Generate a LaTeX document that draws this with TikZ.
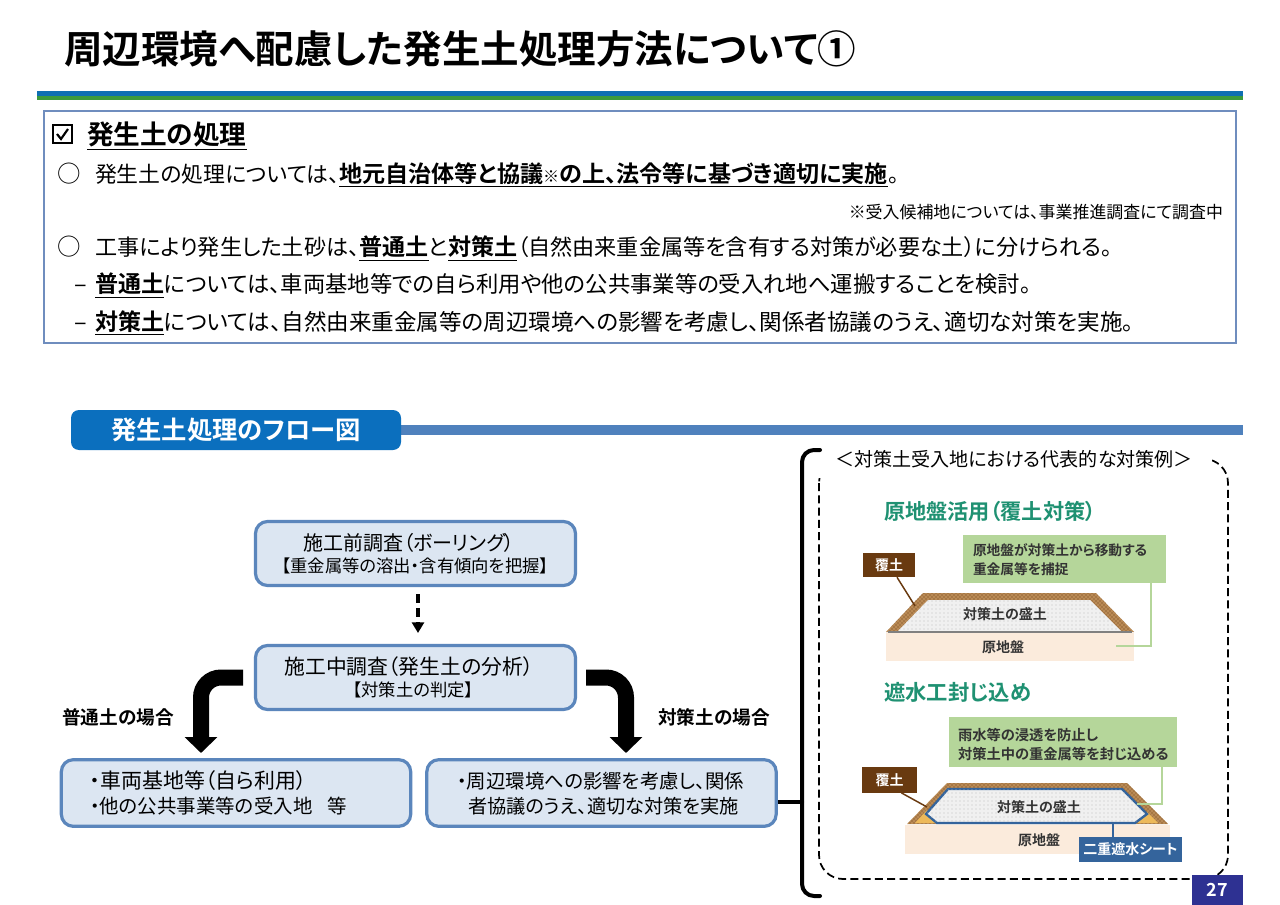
\documentclass[tikz,border=0pt]{standalone}
\usepackage{fontspec}
\setmainfont{Noto Sans CJK JP}[RawFeature=+palt,BoldFont={Noto Sans CJK JP Bold}]
\usetikzlibrary{arrows.meta,patterns}
\newcommand{\ulb}[1]{\textbf{$\underline{\hbox{#1}}$}}
\newcommand{\fs}[1]{\fontsize{#1}{#1}\selectfont}
\newcommand{\bul}[1]{{\fs{17.3}\ulb{#1}}}
\definecolor{bluebar}{HTML}{0F6FB2}
\definecolor{greenbar}{HTML}{3C9A3C}
\definecolor{frameblue}{HTML}{6F8DBE}
\definecolor{pill}{HTML}{0B6FBE}
\definecolor{stripe}{HTML}{4F81BD}
\definecolor{boxfill}{HTML}{DCE6F2}
\definecolor{boxline}{HTML}{5B86BC}
\definecolor{teal2}{HTML}{1F9172}
\definecolor{lgreen}{HTML}{B5D69A}
\definecolor{brownlab}{HTML}{693A10}
\definecolor{soilb}{HTML}{B98A55}
\definecolor{ground}{HTML}{FBEBDC}
\definecolor{sheet}{HTML}{34649C}
\definecolor{pagebox}{HTML}{2E3192}
\definecolor{orange2}{HTML}{EDB95A}
\tikzset{
  txt/.style={inner sep=0pt,outer sep=0pt,anchor=base west},
  txe/.style={inner sep=0pt,outer sep=0pt,anchor=base east},
  txc/.style={inner sep=0pt,outer sep=0pt,anchor=center,align=center},
  flowbox/.style={draw=boxline,fill=boxfill,line width=2.4pt,rounded corners=9pt,inner sep=0pt},
  fatarrow/.style={line width=12pt,rounded corners=15pt,-{Triangle[length=12pt,width=24pt]}},
  palegreen/.style={draw=lgreen,line width=1.2pt},
  brownlead/.style={draw=brownlab,line width=1.1pt},
  labeltxt/.style={txc,font=\fs{10.5}\bfseries,text=black!80}
}
\begin{document}
\begin{tikzpicture}[x=.75pt,y=-.75pt]
\useasboundingbox (0,0) rectangle (1280,905);
\fill[white] (0,0) rectangle (1280,905);
% title
\node[txt,font=\fs{28.9}\bfseries] (title) at (64,64) {周辺環境へ配慮した発生土処理方法について①};
\fill[bluebar] (37,91) rectangle (1243,96);
\fill[greenbar] (37,96) rectangle (1243,100);
% upper frame
\node[draw=frameblue,line width=.8pt,minimum width=894pt,minimum height=174pt,inner sep=0pt] (upper) at (640,227) {};
\draw[line width=1.4pt] (53,125) rectangle (72,143);
\draw[line width=1.6pt] (57,134) -- (61,139) -- (68,129);
\node[txt,font=\fs{20}] (h1) at (87,145) {\ulb{発生土の処理}};
\node[txt,font=\fs{17.6}] (b1) at (57,182.5) {○};
\node[txt,font=\fs{16.4}] (l1) at (95,182.5) {発生土の処理については、\bul{地元自治体等と協議{\fs{12}※}の上、法令等に基づき適切に実施}。};
\node[txe,font=\fs{12.7}] (note) at (1223,219) {※受入候補地については、事業推進調査にて調査中};
\node[txt,font=\fs{17.6}] (b2) at (57,256) {○};
\node[txt,font=\fs{16.6}] (l2) at (95,256) {工事により発生した土砂は、\bul{普通土}と\bul{対策土}（自然由来重金属等を含有する対策が必要な土）に分けられる。};
\node[txt,font=\fs{17.6}] (d1) at (74,293) {–};
\node[txt,font=\fs{16.75}] (l3) at (95,293) {\bul{普通土}については、車両基地等での自ら利用や他の公共事業等の受入れ地へ運搬することを検討。};
\node[txt,font=\fs{17.6}] (d2) at (74,330) {–};
\node[txt,font=\fs{16.9}] (l4) at (95,330) {\bul{対策土}については、自然由来重金属等の周辺環境への影響を考慮し、関係者協議のうえ、適切な対策を実施。};
% section heading
\fill[stripe] (395,425) rectangle (1243,435);
\node[fill=pill,rounded corners=6pt,minimum width=247.5pt,minimum height=30pt,inner sep=0pt,text=white,font=\fs{19}\bfseries] (head) at (236,430) {\raisebox{-.7pt}{発生土処理のフロー図}};
% flow
\node[flowbox,minimum width=240pt,minimum height=48pt] (b-one) at (415.5,553.5) {};
\node[txc,font=\fs{15}] (t1a) at (409,543) {施工前調査（ボーリング）};
\node[txc,font=\fs{13}] (t1b) at (415,566) {【重金属等の溶出・含有傾向を把握】};
\node[flowbox,minimum width=240pt,minimum height=48pt] (b-two) at (415.5,677.5) {};
\node[txc,font=\fs{15.6}] (t2a) at (409,667) {施工中調査（発生土の分析）};
\node[txc,font=\fs{13}] (t2b) at (413,690) {【対策土の判定】};
\node[flowbox,minimum width=262pt,minimum height=50pt] (b-three) at (236,793) {};
\node[txt,font=\fs{15.7}] (t3a) at (90,788) {・車両基地等（自ら利用）};
\node[txt,font=\fs{14.6}] (t3b) at (90,813) {・他の公共事業等の受入地\hspace{.75em}等};
\node[flowbox,minimum width=262pt,minimum height=50pt] (b-four) at (601.5,793) {};
\node[txt,font=\fs{14.6}] (t4a) at (457,788) {・周辺環境への影響を考慮し、関係};
\node[txt,font=\fs{14.4}] (t4b) at (468,813) {者協議のうえ、適切な対策を実施};
\coordinate (a0) at (418,594);
\coordinate (a1) at (418,633);
\draw[line width=2.3pt,dash pattern=on 7pt off 3.5pt,-{Triangle[length=8pt,width=9pt]}] (a0) -- (a1);
\coordinate (la) at (243,677.5);
\coordinate (lb) at (201,677.5);
\coordinate (lc) at (201,753);
\draw[fatarrow] (la) -- (lb) -- (lc);
\coordinate (ra) at (586,677.5);
\coordinate (rb) at (626,677.5);
\coordinate (rc) at (626,753);
\draw[fatarrow] (ra) -- (rb) -- (rc);
\node[txc,font=\fs{14}\bfseries] (lf1) at (118,717) {普通土の場合};
\node[txc,font=\fs{14}\bfseries] (lf2) at (714,717) {対策土の場合};
% dashed frame
\draw[line width=1.3pt,dash pattern=on 6pt off 3.2pt,rounded corners=18pt] (819,459) rectangle (1228,879);
\fill[white] (810,448) rectangle (1212,478);
% brace
\draw[line width=3pt,line cap=round,rounded corners=9pt] (820,450) -- (802,450) -- (802,802);
\draw[line width=3pt,line cap=round,rounded corners=9pt] (820,896) -- (802,896) -- (802,802);
\coordinate (bt) at (802,802);
\draw[line width=3pt] (b-four.east |- bt) -- (bt);
\node[txc,font=\fs{14.3}] (ct) at (1014,459) {＜対策土受入地における代表的な対策例＞};
% example 1
\node[txt,font=\fs{15.9}\bfseries,text=teal2] (e1) at (884,519) {原地盤活用（覆土対策）};
\fill[ground] (886,633) rectangle (1134,661);
\fill[soilb] (886,632) -- (923,593) -- (1096,593) -- (1134,632) -- cycle;
\fill[pattern=crosshatch dots,pattern color=brownlab] (886,632) -- (923,593) -- (1096,593) -- (1134,632) -- cycle;
\fill[black!6] (898,631) -- (928,600) -- (1090,600) -- (1121,631) -- cycle;
\fill[pattern=dots,pattern color=black!25] (898,631) -- (928,600) -- (1090,600) -- (1121,631) -- cycle;
\draw[black!50,line width=.8pt] (888,632) -- (1132,632);
\node[fill=lgreen,minimum width=152pt,minimum height=36pt,inner sep=0pt] (g1) at (1064.5,559) {};
\node[txt,font=\fs{10.3}\bfseries,text=black!80] (g1a) at (973,555) {原地盤が対策土から移動する};
\node[txt,font=\fs{10.3}\bfseries,text=black!80] (g1b) at (973,574) {重金属等を捕捉};
\node[fill=brownlab,minimum width=39pt,minimum height=18pt,inner sep=0pt,text=white,font=\fs{10.5}\bfseries] (k1) at (889,565) {覆土};
\coordinate (k1e) at (915,606);
\draw[brownlead] (k1.south) ++(8,0) -- (k1e);
\coordinate (g1e) at (1116,646);
\draw[palegreen] (1151,583) -- (1151,646) -- (g1e);
\node[labeltxt] (s1) at (1005,614) {対策土の盛土};
\node[labeltxt] (o1) at (1003,647) {原地盤};
% example 2
\node[txt,font=\fs{16}\bfseries,text=teal2] (e2) at (884,700) {遮水工封じ込め};
\fill[ground] (905,825) rectangle (1170,854);
\fill[soilb] (907,824) -- (947,783) -- (1127,783) -- (1168,824) -- cycle;
\fill[pattern=crosshatch dots,pattern color=brownlab] (907,824) -- (947,783) -- (1127,783) -- (1168,824) -- cycle;
\fill[orange2] (915,823) -- (927,810) -- (936,823) -- cycle;
\fill[orange2] (1137,823) -- (1147,812) -- (1158,823) -- cycle;
\filldraw[fill=black!6,draw=sheet,line width=1.7pt] (926,814) -- (948,789) -- (1122,789) -- (1147,814) -- (1135,823) -- (937,823) -- cycle;
\fill[pattern=dots,pattern color=black!25] (926,814) -- (948,789) -- (1122,789) -- (1147,814) -- (1135,823) -- (937,823) -- cycle;
\node[fill=lgreen,minimum width=171pt,minimum height=37.5pt,inner sep=0pt] (g2) at (1063,742) {};
\node[txt,font=\fs{10.7}\bfseries,text=black!80] (g2a) at (958,740) {雨水等の浸透を防止し};
\node[txt,font=\fs{10.7}\bfseries,text=black!80] (g2b) at (958,759) {対策土中の重金属等を封じ込める};
\node[fill=brownlab,minimum width=41pt,minimum height=19pt,inner sep=0pt,text=white,font=\fs{10.5}\bfseries] (k2) at (889.5,780) {覆土};
\coordinate (k2e) at (927,807);
\draw[brownlead] (k2.south) ++(12,0) -- (k2e);
\coordinate (g2e) at (1137,804);
\draw[palegreen] (1162,767) -- (1162,804) -- (g2e);
\node[labeltxt] (s2) at (1039,807) {対策土の盛土};
\node[labeltxt] (o2) at (1039,840) {原地盤};
\node[fill=sheet,minimum width=77pt,minimum height=19pt,inner sep=0pt,text=white,font=\fs{10.5}\bfseries] (sh) at (1130.5,849.5) {二重遮水シート};
\coordinate (sheetb) at (1113,824);
\draw[draw=sheet,line width=1.7pt] (sheetb) -- (sh.north -| sheetb);
% page
\node[fill=pagebox,minimum width=38.5pt,minimum height=22.5pt,inner sep=0pt,text=white,font=\fs{13.5}\bfseries] (pg) at (1217.5,890) {27};
\end{tikzpicture}
\end{document}
